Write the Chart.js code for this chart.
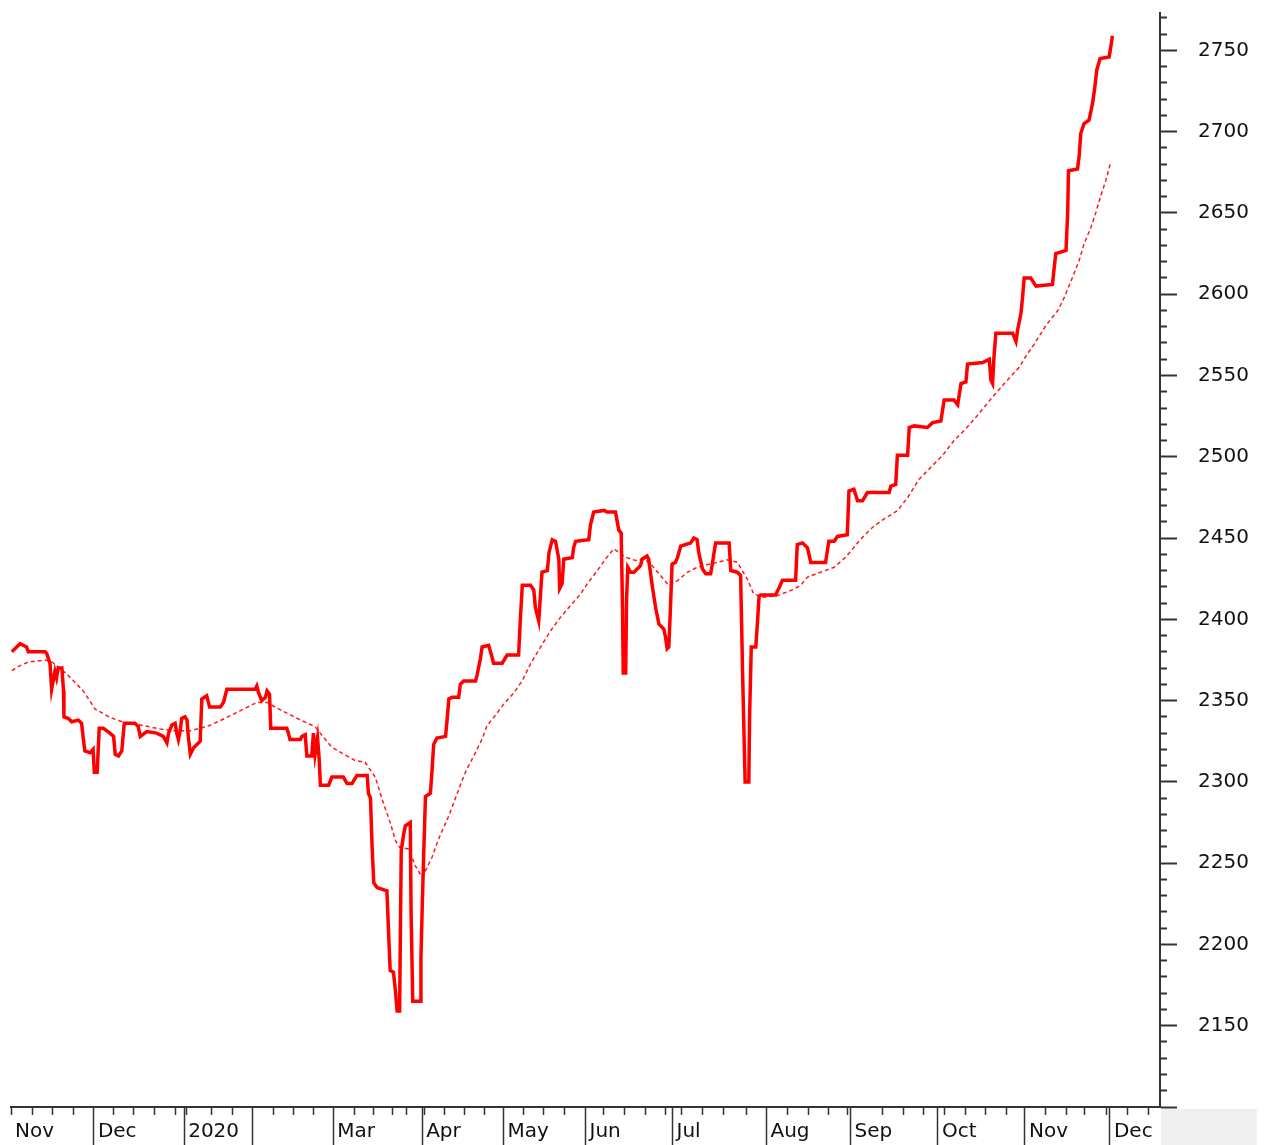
<!DOCTYPE html>
<html><head><meta charset="utf-8">
<script src="https://cdn.jsdelivr.net/npm/chart.js@4.4.0/dist/chart.umd.min.js"></script>
<style>
html,body{margin:0;padding:0;background:#fff;}
#wrap{position:relative;width:1266px;height:1145px;overflow:hidden;}
#corner{position:absolute;left:1161px;top:1109px;width:96px;height:36px;background:#f0f0f0;}
canvas{position:absolute;left:0;top:0;}
</style></head><body>
<div id="wrap"><div id="corner"></div><canvas id="c" width="1266" height="1145"></canvas></div>
<script>
// trading-day index (x) and index level (y)
const mainDays = [0.2,2.2,3.8,4.2,8.3,8.7,9.5,9.9,10.7,11.1,11.5,12.4,12.8,12.9,14.0,14.8,16.4,17.2,17.6,18.0,19.3,20.0,20.3,21.0,21.5,22.5,24.1,25.0,25.4,26.2,27.0,27.6,30.2,31.0,31.5,33.1,35.5,37.1,38.0,38.4,39.2,40.0,40.4,40.8,41.2,41.6,42.4,42.9,43.2,43.7,44.5,45.3,46.1,46.5,47.7,48.4,51.0,51.8,52.6,59.5,59.9,60.3,61.1,62.0,62.4,63.0,63.3,67.2,67.6,68.0,70.5,70.9,71.7,72.1,73.3,73.7,74.1,74.7,75.1,75.4,77.4,78.2,81.0,81.9,83.1,84.3,86.8,87.1,87.6,88.0,88.4,89.2,91.6,92.0,92.4,93.2,93.7,94.1,94.7,94.9,95.1,95.7,96.1,97.3,97.5,97.9,99.8,99.9,100.2,100.6,101.0,102.2,102.6,103.0,103.8,105.9,106.3,106.7,107.5,109.1,109.5,110.3,113.2,113.6,114.4,114.8,116.4,117.2,117.6,119.7,120.9,123.7,124.1,124.6,126.6,127.4,127.8,128.6,129.0,129.4,130.7,131.1,131.9,132.7,133.5,133.7,134.3,134.7,136.8,137.1,137.6,140.8,141.2,142.0,144.5,145.3,147.3,148.1,148.7,149.0,149.2,149.8,150.0,150.3,151.0,151.8,153.4,153.8,155.0,155.4,156.3,157.1,157.9,159.1,159.5,159.9,160.3,160.7,161.1,161.9,162.4,163.2,165.6,166.4,167.2,167.6,168.5,169.3,170.5,170.9,171.7,175.0,175.4,177.0,177.8,178.3,178.9,179.8,180.0,180.4,181.5,181.9,182.3,182.7,186.3,187.1,188.0,191.2,191.6,192.9,194.1,194.9,198.5,199.3,200.6,201.4,203.8,204.2,205.4,206.3,207.5,208.7,214.0,214.4,215.6,216.0,218.5,218.9,220.1,223.3,224.6,226.6,227.4,229.8,230.7,231.5,232.7,233.1,236.8,238.4,238.8,239.2,239.5,240.0,244.1,244.9,245.3,246.1,246.5,246.9,248.5,249.8,253.8,254.2,254.6,257.1,257.5,257.7,259.9,260.3,260.7,261.5,262.7,263.2,263.6,264.1,264.6,265.4,267.6,268.0,268.4];
const mainValues = [2380,2385,2383,2380,2380,2379,2373,2357,2368,2364,2370,2370,2356,2340,2339,2337,2338,2336,2327,2319,2318,2320,2306,2306,2333,2333,2330,2328,2317,2316,2319,2336,2336,2334,2328,2331,2330,2328,2324,2330,2335,2336,2330,2326,2331,2339,2340,2338,2328,2317,2321,2323,2325,2351,2353,2346,2346,2349,2357,2357,2359,2355,2350,2352,2356,2354,2333,2333,2330,2326,2326,2328,2329,2316,2316,2330,2317,2327,2314,2298,2298,2303,2303,2299,2299,2304,2304,2293,2290,2260,2238,2235,2233,2208,2184,2183,2171,2159,2159,2210,2258,2268,2273,2275,2219,2165,2165,2192,2222,2258,2291,2293,2307,2323,2327,2328,2339,2351,2352,2352,2360,2362,2362,2366,2376,2383,2384,2377,2373,2373,2378,2378,2399,2421,2421,2418,2407,2399,2414,2429,2430,2441,2449,2448,2437,2419,2422,2437,2438,2444,2448,2449,2458,2466,2467,2466,2466,2455,2453,2410,2367,2367,2412,2432,2429,2429,2433,2437,2439,2437,2420,2407,2397,2394,2389,2382,2383,2407,2434,2435,2438,2445,2447,2450,2449,2441,2431,2428,2428,2434,2447,2447,2430,2429,2427,2365,2300,2300,2342,2383,2383,2398,2414,2415,2415,2419,2424,2424,2446,2447,2444,2435,2435,2448,2448,2451,2452,2479,2480,2473,2473,2478,2478,2482,2483,2501,2501,2518,2519,2518,2521,2522,2535,2535,2532,2545,2546,2557,2558,2560,2547,2545,2560,2576,2576,2571,2578,2588,2598,2610,2610,2605,2606,2616,2625,2627,2650,2676,2677,2685,2699,2705,2707,2713,2718,2727,2738,2745,2746,2752,2759];
const maDays = [0.2,2.2,4.2,8.3,9.9,13.6,17.6,20.5,24.1,27.4,32.3,36.3,39.6,43.7,47.7,51.0,55.9,59.9,62.4,64.8,70.5,74.1,75.8,78.2,81.0,83.9,86.3,87.1,88.8,90.4,92.4,93.7,94.7,96.9,98.5,100.2,101.0,102.6,104.2,106.7,108.7,109.9,111.1,112.4,113.6,114.8,116.0,118.0,120.1,122.5,124.6,126.6,129.0,131.5,133.9,136.3,138.8,140.4,142.9,144.9,146.9,149.8,152.2,154.2,155.9,158.3,160.3,162.4,164.8,167.2,170.5,174.6,177.0,179.4,181.0,183.5,186.8,190.0,192.4,194.1,197.3,200.6,203.4,207.1,209.9,212.7,216.0,218.5,221.3,224.1,227.0,229.8,232.3,235.5,238.8,242.0,245.7,246.9,249.4,252.2,255.1,256.7,258.7,260.3,261.5,263.2,264.4,265.6,266.8,268.0];
const maValues = [2368.5,2371.5,2373.7,2375,2374,2366.4,2356,2344.8,2339.7,2336.7,2334.6,2332.6,2331.5,2331.5,2334,2337.7,2343.8,2348.9,2348.9,2345.4,2338.1,2334,2328.5,2321.3,2317.2,2313.1,2312.1,2309,2302.8,2289.5,2275.1,2263.8,2259.8,2258.7,2248.5,2241.3,2245.4,2253.6,2264.9,2279.2,2292.6,2300.8,2308,2314.1,2320.2,2326.4,2334.6,2340.8,2348,2354.6,2362.3,2372.6,2382.8,2393,2401.2,2408.4,2415.6,2421.8,2430,2437.2,2443.4,2438.2,2436.2,2437.2,2434.1,2426.9,2420.8,2423.8,2428.9,2432,2434.1,2436.6,2435.1,2424.8,2415.6,2413.6,2414.6,2417.7,2420.8,2426,2429,2432,2438.2,2449.4,2456.5,2461.7,2466.8,2474.9,2486.2,2493.4,2500.8,2510,2516.2,2525.4,2535.6,2544.9,2555.1,2560.3,2569.5,2580.8,2590,2598.2,2610.5,2620.8,2631,2641.3,2650.5,2660.8,2670,2681.3];
// axis ticks
const monthDays = [0,20.2,42.2,58.8,78.5,100.2,120,140,161.2,184.1,204.6,225.9,247.1,267.8];
const monthLabels = ['Nov','Dec','2020','','Mar','Apr','May','Jun','Jul','Aug','Sep','Oct','Nov','Dec'];
const weekDays = [5.2,10.1,15.2,24.9,29.9,34.9,40.2,42.8,48.8,53.9,63.9,68.8,73.7,83.7,88.3,92.9,96.5,100.7,105.6,110.5,115.4,124.8,129.8,134.8,144.5,149.6,154.6,159.4,163.4,168.6,173.7,179.2,189.3,194.3,199.3,203.8,212.4,217.4,222.4,227.5,232.5,237.5,242.5,252.1,257.1,261.6,267.0,272.2,277.2];
const yTickValues = [];
for (let v = 2100; v <= 2770; v += 10) yTickValues.push(v);

const xTicks = monthDays.concat(weekDays).sort((a,b)=>a-b);
const labelFont = {family: '"DejaVu Sans", sans-serif', size: 20};
const axisColor = '#333';

new Chart(document.getElementById('c'), {
  type: 'line',
  data: {
    datasets: [
      {data: mainDays.map((d,i)=>({x:d, y:mainValues[i]})), borderColor:'#ff0000', borderWidth:3.5, pointRadius:0, tension:0, fill:false},
      {data: maDays.map((d,i)=>({x:d, y:maValues[i]})), borderColor:'#ff1a1a', borderWidth:1.5, borderDash:[4,3], pointRadius:0, tension:0, fill:false}
    ]
  },
  options: {
    responsive:false, animation:false, events:[],
    layout:{padding:{top:13,left:11,right:0,bottom:0}},
    plugins:{legend:{display:false}, tooltip:{enabled:false}},
    scales:{
      x:{
        type:'linear', position:'bottom', min:0, max:280,
        afterBuildTicks:(s)=>{ s.ticks = xTicks.map(v=>({value:v})); },
        afterFit:(s)=>{ s.height = 38; s.paddingLeft = 0; s.paddingRight = 0; },
        ticks:{autoSkip:false, maxRotation:0, minRotation:0, align:'start', labelOffset:4, padding:-25,
          font:labelFont, color:'#111',
          callback:(v)=>{ const i = monthDays.indexOf(v); return i>=0 ? monthLabels[i] : ''; }},
        grid:{drawOnChartArea:false, tickLength:38, tickWidth:1.5, tickColor:axisColor,
          tickBorderDash:(ctx)=>{ const v = ctx.tick ? ctx.tick.value : null; return (monthDays.indexOf(v) > 0) ? [] : [7,100]; }},
        border:{display:true, color:axisColor, width:2}
      },
      y:{
        type:'linear', position:'right', min:2100, max:2773,
        afterBuildTicks:(s)=>{ s.ticks = yTickValues.map(v=>({value:v})); },
        afterFit:(s)=>{ s.width = 106; s.paddingTop = 0; s.paddingBottom = 0; },
        ticks:{autoSkip:false, padding:21, font:labelFont, color:'#111',
          callback:(v)=> (v % 50 === 0 && v !== 2100) ? String(v) : ''},
        grid:{drawOnChartArea:false, tickLength:17, tickWidth:2, tickColor:axisColor,
          tickBorderDash:(ctx)=>{ const v = ctx.tick ? ctx.tick.value : 0; return (v % 50 === 0) ? [] : [6,100]; }},
        border:{display:true, color:axisColor, width:2}
      }
    }
  }
});
</script>
</body></html>
